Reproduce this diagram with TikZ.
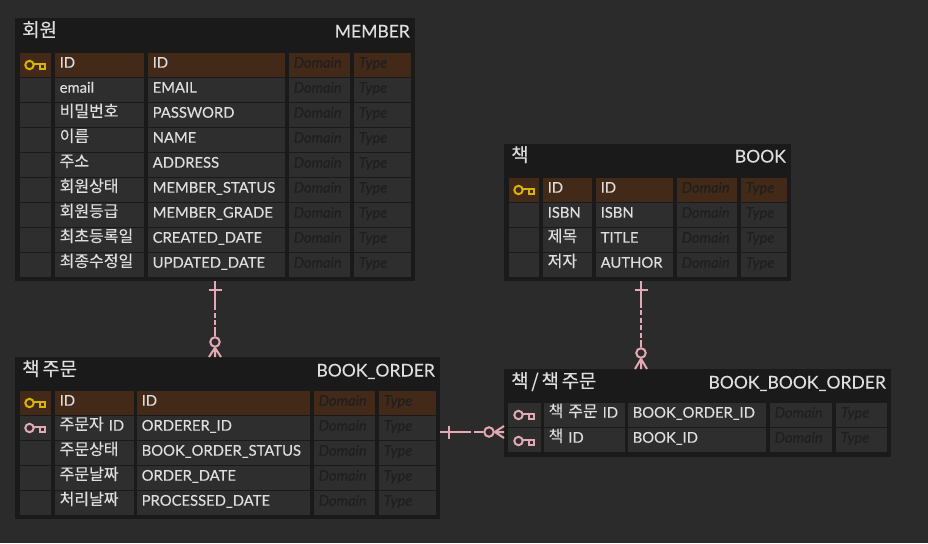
\documentclass[tikz,border=0pt]{standalone}
\usepackage{fontspec}
\setmainfont{Lato}[FakeBold=0.25]
\newfontfamily\kofont{Noto Sans CJK KR}[Scale=1.08,FakeBold=0.2,WordSpace=0.65]
\newcommand{\kor}[1]{\mbox{\raisebox{0.8pt}{\kofont #1}}}
\definecolor{bgc}{HTML}{2B2B2B}
\definecolor{tablec}{HTML}{1A1A1A}
\definecolor{cellc}{HTML}{2E2E2E}
\definecolor{pkc}{HTML}{432A18}
\definecolor{txtc}{HTML}{DEDEDE}
\definecolor{ghostc}{HTML}{1F1F1F}
\definecolor{goldc}{HTML}{D9B400}
\definecolor{pinkc}{HTML}{E3AAB6}
\tikzset{
  tablebox/.style={fill=tablec,draw=none,inner sep=0pt,anchor=north west},
  cellbox/.style={inner sep=0pt,inner xsep=4.5pt,anchor=north west,minimum height=24pt,
    text height=11.5pt,text depth=6.5pt,align=left,font=\fontsize{14.8}{14.8}\selectfont,text=txtc},
  ghostbox/.style={cellbox,text=ghostc,font=\fontsize{14.6}{14.6}\selectfont\itshape},
  titletext/.style={inner sep=0pt,text=txtc,font=\fontsize{17.5}{17.5}\selectfont},
  relline/.style={draw=pinkc,line width=2pt},
  reldot/.style={circle,draw=pinkc,fill=bgc,line width=2pt,inner sep=0pt,minimum size=9.5pt},
  keyline/.style={line width=2pt,fill=none},
}
\newcommand{\setcols}[8]{\def\xa{#1}\def\xb{#2}\def\xc{#3}\def\xd{#4}\def\xe{#5}\def\xf{#6}\def\xg{#7}\def\xh{#8}}
\newcommand{\setlast}[2]{\def\xi{#1}\def\xj{#2}}
\newcommand{\mycell}[6]{%
  \node[cellbox,fill=#5,text width={(#3-#2-9)*1pt},minimum width={(#3-#2)*1pt}] (#1) at (#2,#4) {#6};}
\newcommand{\myghost}[6]{%
  \node[ghostbox,fill=#5,text width={(#3-#2-9)*1pt},minimum width={(#3-#2)*1pt}] (#1) at (#2,#4) {#6};}
\newcommand{\keyicon}[3]{% x,y of icon centre, colour
  \begin{scope}[shift={(#1,#2)}]
    \draw[keyline,draw=#3] (-5.5,0) circle (4.2);
    \draw[keyline,draw=#3] (-1.5,-1) -- (9.5,-1) -- (9.5,3.8) -- (4.5,3.8) -- (4.5,-1);
  \end{scope}}
\newcommand{\errow}[6]{% table,row,y,fill,ko,en
  \mycell{#1k#2}{\xa}{\xb}{#3}{#4}{}
  \mycell{#1n#2}{\xc}{\xd}{#3}{#4}{#5}
  \mycell{#1e#2}{\xe}{\xf}{#3}{#4}{#6}
  \myghost{#1d#2}{\xg}{\xh}{#3}{#4}{Domain}
  \myghost{#1t#2}{\xi}{\xj}{#3}{#4}{Type}}
\begin{document}
\begin{tikzpicture}[x=1pt,y=-1pt]
\useasboundingbox (0,0) rectangle (928,543);
\fill[bgc] (0,0) rectangle (928,543);

% ---------- MEMBER
\node[tablebox,minimum width=400pt,minimum height=263pt] (member) at (15,18) {};
\node[titletext,anchor=base west] (membertko) at (22,37.5) {\kor{회원}};
\node[titletext,anchor=base east] (membert) at (410,37.5) {MEMBER};
\setcols{20}{51}{55}{144}{148}{285}{289}{350}\setlast{354}{411}
\errow{m}{1}{53}{pkc}{ID}{ID}
\errow{m}{2}{78}{cellc}{email}{EMAIL}
\errow{m}{3}{103}{cellc}{\kor{비밀번호}}{PASSWORD}
\errow{m}{4}{128}{cellc}{\kor{이름}}{NAME}
\errow{m}{5}{153}{cellc}{\kor{주소}}{ADDRESS}
\errow{m}{6}{178}{cellc}{\kor{회원상태}}{MEMBER\_STATUS}
\errow{m}{7}{203}{cellc}{\kor{회원등급}}{MEMBER\_GRADE}
\errow{m}{8}{228}{cellc}{\kor{최초등록일}}{CREATED\_DATE}
\errow{m}{9}{253}{cellc}{\kor{최종수정일}}{UPDATED\_DATE}
\keyicon{35}{65}{goldc}

% ---------- BOOK
\node[tablebox,minimum width=287pt,minimum height=137pt] (book) at (504,144) {};
\node[titletext,anchor=base west] (booktko) at (511,162.5) {\kor{책}};
\node[titletext,anchor=base east] (bookt) at (786,162.5) {BOOK};
\setcols{509}{539}{543}{592}{596}{673}{677}{737}\setlast{741}{787}
\errow{b}{1}{178}{pkc}{ID}{ID}
\errow{b}{2}{203}{cellc}{ISBN}{ISBN}
\errow{b}{3}{228}{cellc}{\kor{제목}}{TITLE}
\errow{b}{4}{253}{cellc}{\kor{저자}}{AUTHOR}
\keyicon{524}{190}{goldc}

% ---------- BOOK_ORDER
\node[tablebox,minimum width=425pt,minimum height=162pt] (order) at (15,357) {};
\node[titletext,anchor=base west] (ordertko) at (22,376.5) {\kor{책 주문}};
\node[titletext,anchor=base east] (ordert) at (435,376.5) {BOOK\_ORDER};
\setcols{20}{51}{55}{134}{137}{310}{314}{375}\setlast{379}{436}
\errow{o}{1}{391}{pkc}{ID}{ID}
\errow{o}{2}{416}{cellc}{\mbox{\kor{주문자} ID}}{ORDERER\_ID}
\errow{o}{3}{441}{cellc}{\kor{주문상태}}{BOOK\_ORDER\_STATUS}
\errow{o}{4}{466}{cellc}{\kor{주문날짜}}{ORDER\_DATE}
\errow{o}{5}{491}{cellc}{\kor{처리날짜}}{PROCESSED\_DATE}
\keyicon{35}{403}{goldc}
\keyicon{35}{428}{pinkc}

% ---------- BOOK_BOOK_ORDER
\node[tablebox,minimum width=387pt,minimum height=88pt] (link) at (504,369) {};
\node[titletext,anchor=base west] (linktko) at (511,388.5) {\kor{책 / 책 주문}};
\node[titletext,anchor=base east] (linkt) at (886,388.5) {BOOK\_BOOK\_ORDER};
\setcols{508}{541}{544}{625}{628}{766}{770}{832}\setlast{836}{887}
\errow{l}{1}{403}{cellc}{\mbox{\kor{책 주문} ID}}{BOOK\_ORDER\_ID}
\errow{l}{2}{428}{cellc}{\mbox{\kor{책} ID}}{BOOK\_ID}
\keyicon{524}{415}{pinkc}
\keyicon{524}{441}{pinkc}

% ---------- relationship: MEMBER - BOOK_ORDER
\coordinate (ra1) at (member.south -| 215,0);
\coordinate (ra2) at (order.north -| 215,0);
\node[reldot] (rad) at (215,342) {};
\draw[relline,dash pattern=on 29pt off 3pt on 5pt off 2pt on 5pt off 2pt on 20pt] (ra1) -- (rad);
\draw[relline] (208.5,290) -- (221.5,290);
\draw[relline] (rad.south) -- (ra2) (rad.south) -- ([xshift=-6pt]ra2) (rad.south) -- ([xshift=6pt]ra2);

% ---------- relationship: BOOK - BOOK_BOOK_ORDER
\coordinate (rb1) at (book.south -| 641,0);
\coordinate (rb2) at (link.north -| 641,0);
\node[reldot] (rbd) at (641,353) {};
\draw[relline,dash pattern=on 27pt off 2pt on 5pt off 3pt on 5pt off 2pt on 5pt off 3pt on 5pt off 2pt on 20pt] (rb1) -- (rbd);
\draw[relline] (634.5,290) -- (647.5,290);
\draw[relline] (rbd.south) -- (rb2) (rbd.south) -- ([xshift=-6pt]rb2) (rbd.south) -- ([xshift=6pt]rb2);

% ---------- relationship: BOOK_ORDER - BOOK_BOOK_ORDER
\coordinate (rc1) at (order.east |- 0,432);
\coordinate (rc2) at (link.west |- 0,432);
\node[reldot] (rcd) at (489,432) {};
\draw[relline,dash pattern=on 31pt off 3pt on 20pt] (rc1) -- (rcd);
\draw[relline] (449,425.5) -- (449,438.5);
\draw[relline] (rcd.east) -- (rc2) (rcd.east) -- ([yshift=-6pt]rc2) (rcd.east) -- ([yshift=6pt]rc2);
\end{tikzpicture}
\end{document}
